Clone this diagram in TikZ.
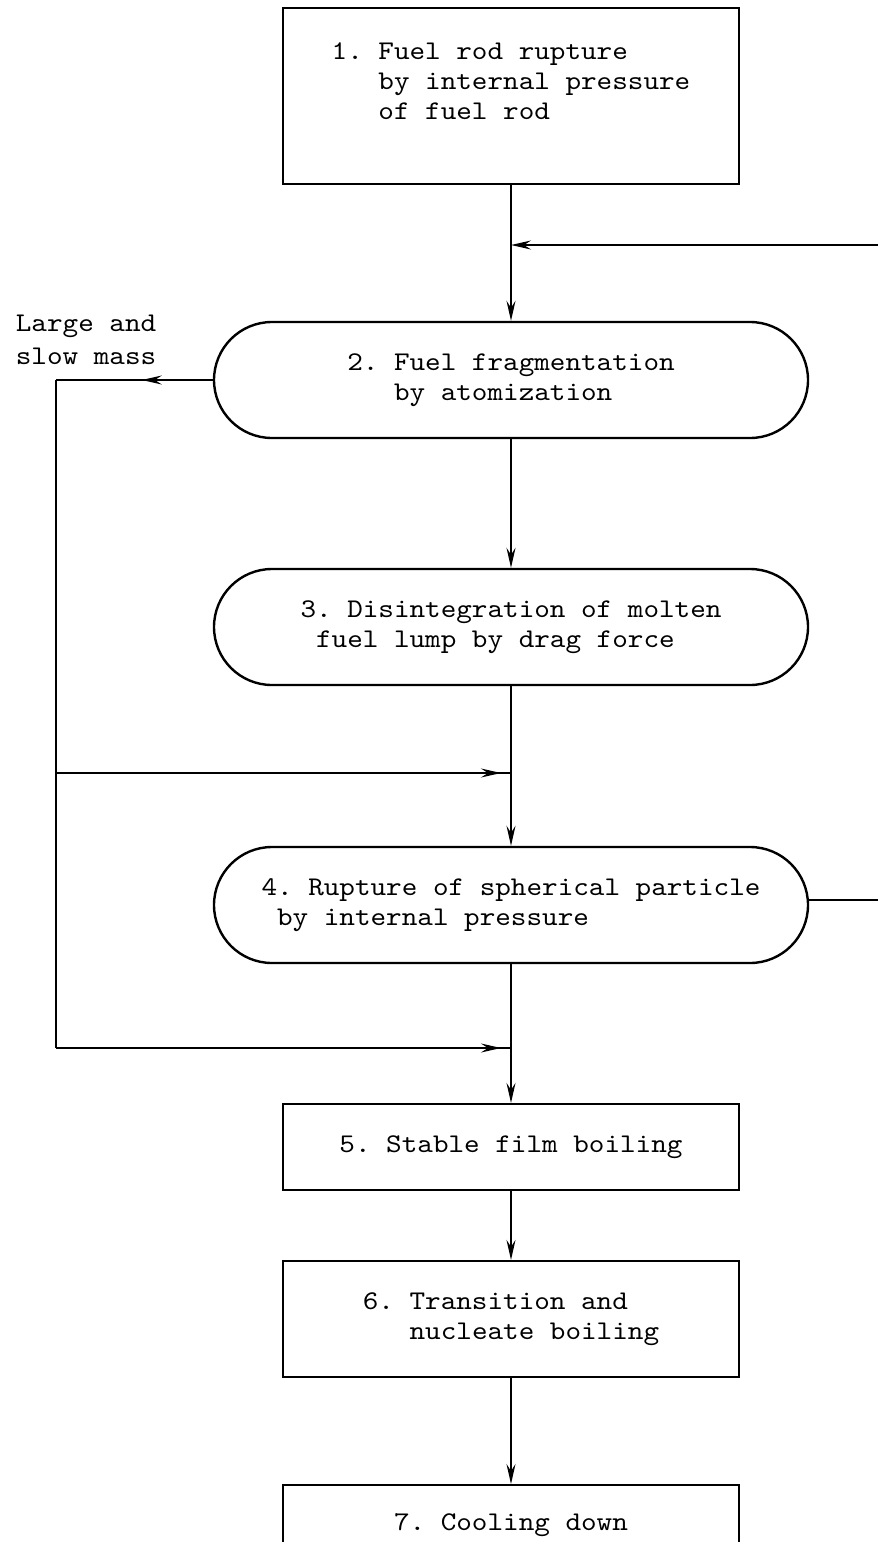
\documentclass[tikz,border=0pt]{standalone}
\usepackage{fontspec}
\newfontfamily\tw{lmmono10-regular.otf}[FakeStretch=1.1]
\usetikzlibrary{arrows.meta,decorations.markings,shapes.misc}

\begin{document}
\begin{tikzpicture}[x=1pt,y=-1pt,
  font=\tw\fontsize{27}{30}\selectfont\frenchspacing,
  line width=1.8pt,
  head/.style={-{Stealth[length=20pt,width=9pt,inset=7pt]}},
  midtip/.style={postaction={decorate},
    decoration={markings, mark=at position #1 with {\arrow{Stealth[length=20pt,width=9pt,inset=7pt]}}}},
  flowbox/.style={draw, line width=2.2pt, minimum width=456pt, align=left, inner sep=0pt},
  pill/.style={draw, rounded rectangle, line width=2.4pt, minimum width=594pt,
    minimum height=116pt, align=left, inner sep=0pt},
]
\useasboundingbox (0,0) rectangle (878,1542);
\clip (0,0) rectangle (878,1542);

% process steps
\node[flowbox, minimum height=176pt, text depth=30pt] (b1) at (511,96)
  {1. Fuel rod rupture\\\hphantom{000}by internal pressure\\\hphantom{000}of fuel rod};
\node[pill] (n2) at (511,380)
  {2. Fuel fragmentation\\\hphantom{000}by atomization};
\node[pill] (n3) at (511,627)
  {3. Disintegration of molten\\\hphantom{0}fuel lump by drag force};
\node[pill] (n4) at (511,905)
  {4. Rupture of spherical particle\\\hphantom{0}by internal pressure};
\node[flowbox, minimum height=86pt] (b5) at (511,1147)
  {5. Stable film boiling};
\node[flowbox, minimum height=116pt] (b6) at (511,1319)
  {6. Transition and\\\hphantom{000}nucleate boiling};
\node[flowbox, minimum height=80pt, anchor=north] (b7) at (511,1484)
  {7. Cooling down};

% side label
\node[anchor=west, align=left, inner sep=0pt, font=\tw\fontsize{27}{33}\selectfont] (lbl) at (15,340)
  {Large and\\slow mass};

% main chain
\draw[head] (b1) -- (n2);
\draw[head] (n2) -- (n3);
\draw[head] (n3) -- (n4);
\draw[head] (n4) -- (b5);
\draw[head] (b5) -- (b6);
\draw[head] (b6) -- (b7);

% feedback from the right
\coordinate (rtop) at (878,245);
\coordinate (jtop) at (511,245);
\coordinate (r4) at (878,900);
\draw[head] (rtop) -- (jtop);
\draw (n4.east |- r4) -- (r4);

% bypass on the left
\coordinate (lc) at (56,380);
\coordinate (lm) at (56,773);
\coordinate (lb) at (56,1048);
\coordinate (jm) at (511,773);
\coordinate (jb) at (511,1048);
\draw[midtip=71pt] (n2.west) -- (lc);
\draw (lc) -- (lb);
\draw[midtip=-10pt] (lm) -- (jm);
\draw[midtip=-10pt] (lb) -- (jb);
\end{tikzpicture}
\end{document}
